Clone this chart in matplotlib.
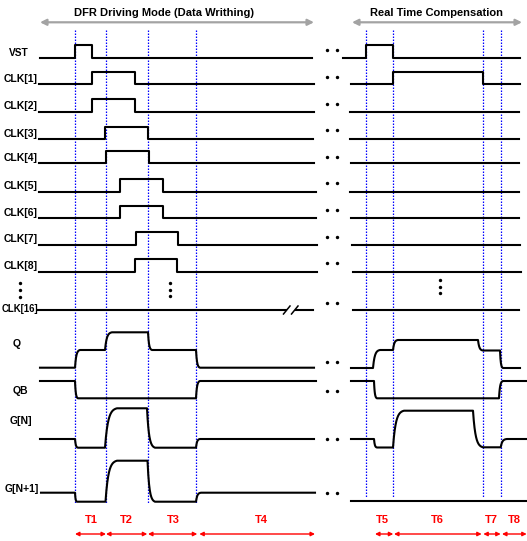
import numpy as np
import matplotlib
matplotlib.use('Agg')
import matplotlib.pyplot as plt

# ---------------- data ----------------
# timing guide positions (dotted blue)
guides_left = [75, 105.5, 148, 196]
guides_right = [366, 393, 483, 501]

# digital rows
dig_labels = ['VST', 'CLK[1]', 'CLK[2]', 'CLK[3]', 'CLK[4]', 'CLK[5]', 'CLK[6]', 'CLK[7]', 'CLK[8]']
dig_low = [57.7, 84.3, 111.5, 139.3, 163.3, 191.7, 218.3, 244.5, 271.7]
dig_amp = 12.3
dig_left_start = [40, 38.5, 38.5, 38.5, 38.5, 38.5, 38.5, 38.5, 38.5]
dig_left_end = [311.7, 314.3, 314.3, 313.3, 314.3, 315.7, 315.7, 316.7, 316.7]
pulse_left_on = [75, 92, 92, 105, 106, 120, 120, 135.5, 135]
pulse_left_off = [92, 135, 135, 148, 149, 163, 163, 178, 177]
dig_right_start = [343, 351, 350, 350, 351, 350, 351, 352, 352.7]
dig_right_end = [520, 520, 519, 519, 519, 519, 519, 520, 521]
pulse_right_on = [366, 393, None, None, None, None, None, None, None]
pulse_right_off = [393, 483, None, None, None, None, None, None, None]

clk16_y = 310
clk16_left = [38, 313.3]
clk16_break = [286, 294]
clk16_right = [353, 519]

# analog waveforms (knots: x, level)
q_left_x = [40, 75, 80, 105, 112, 148, 152, 196, 200, 314]
q_left_y = [367.7, 367.7, 350, 350, 332.3, 332.3, 350, 350, 367.7, 367.7]
q_right_x = [351, 373, 380, 393, 398, 478, 483, 500, 503, 520]
q_right_y = [368, 368, 350, 350, 340, 340, 350.5, 350.5, 368, 368]

qb_left_x = [40, 75, 78, 196, 200, 316]
qb_left_y = [381, 381, 398.3, 398.3, 381, 381]
qb_right_x = [351, 374, 377, 499, 503, 527]
qb_right_y = [381, 381, 398.3, 398.3, 381, 381]

gn_left_x = [40, 75, 78, 105, 117, 147, 155, 196, 200, 314]
gn_left_y = [439, 439, 447.7, 447.7, 408.3, 408.3, 447.7, 447.7, 439, 439]
gn_right_x = [351, 374, 377, 393, 404, 473, 483, 500.7, 507, 527]
gn_right_y = [439, 439, 447.5, 447.5, 410.7, 410.7, 447.3, 447.3, 439, 439]

gn1_left_x = [41, 75, 77, 105.5, 117, 147.5, 155, 196, 201, 315]
gn1_left_y = [492.7, 492.7, 501.7, 501.7, 460.7, 460.7, 501.7, 501.7, 492.7, 492.7]
gn1_right_x = [351, 527]
gn1_right_y = [500.7, 500.7]

analog_labels = ['Q', 'QB', 'G[N]', 'G[N+1]']
analog_label_x = [16.5, 20, 20.5, 21.5]
analog_label_y = [344, 390.7, 421, 488.5]

# continuation dots
dots_y = [50, 77.3, 104, 129.5, 156.7, 183.3, 210, 236.7, 263.3, 303, 361.7, 390.7, 439, 492.7]
dots_x = [326.7, 336.7]
vdots_left = (20, [283.3, 290, 296.7])
vdots_mid = (170, [283.3, 290, 296])
vdots_right = (440, [280, 286.7, 293.3])

# phases
phase_labels = ['T1', 'T2', 'T3', 'T4', 'T5', 'T6', 'T7', 'T8']
phase_label_x = [91.7, 126.5, 173, 261, 382.3, 437.7, 491.7, 514]
phase_start = [75, 106, 148, 199.3, 375, 394, 483.3, 502]
phase_end = [106, 147.3, 197.3, 315, 393.3, 481.7, 500.7, 526.7]

header_texts = ['DFR Driving Mode (Data Writhing)', 'Real Time Compensation']
header_x = [163.8, 436.7]
header_arrow = [(40, 314), (352, 522)]

# ---------------- drawing ----------------
plt.rcParams['font.family'] = ['Liberation Sans', 'DejaVu Sans']
fig = plt.figure(figsize=(5.27, 5.41), dpi=100)
ax = fig.add_axes([0, 0, 1, 1])
ax.set_xlim(0, 527)
ax.set_ylim(541, 0)
ax.axis('off')

LW = 1.5
K = 'black'


def draw_wave(xs, ys, k=4.0):
    px, py = [xs[0]], [ys[0]]
    for i in range(1, len(xs)):
        x0, x1, y0, y1 = xs[i - 1], xs[i], ys[i - 1], ys[i]
        if y0 != y1 and x1 != x0:
            s = np.linspace(0, 1, 40)
            f = (1 - np.exp(-k * s)) / (1 - np.exp(-k))
            px.extend(x0 + (x1 - x0) * s)
            py.extend(y0 + (y1 - y0) * f)
        else:
            px.append(x1)
            py.append(y1)
    ax.plot(px, py, color=K, lw=LW, solid_joinstyle='round', zorder=3)


# guides
for g in guides_left:
    ax.plot([g, g], [30, 503], color='blue', lw=0.9, ls=(0, (1.2, 1.2)), zorder=2)
for g in guides_right:
    ax.plot([g, g], [30, 497], color='blue', lw=0.9, ls=(0, (1.2, 1.2)), zorder=2)

# digital rows
for i, lab in enumerate(dig_labels):
    lo = dig_low[i]
    hi = lo - dig_amp
    on, off = pulse_left_on[i], pulse_left_off[i]
    draw_wave([dig_left_start[i], on, on, off, off, dig_left_end[i]], [lo, lo, hi, hi, lo, lo])
    if pulse_right_on[i] is not None:
        on, off = pulse_right_on[i], pulse_right_off[i]
        draw_wave([dig_right_start[i], on, on, off, off, dig_right_end[i]], [lo, lo, hi, hi, lo, lo])
    else:
        draw_wave([dig_right_start[i], dig_right_end[i]], [lo, lo])
    if lab == 'VST':
        ax.text(19, lo - 5, lab, ha='center', va='center', fontsize=7.3, fontweight='bold')
    else:
        ax.text(37.5, lo - 5.5, lab, ha='right', va='center', fontsize=7.5, fontweight='bold')

# CLK[16]
ax.plot([clk16_left[0], clk16_break[0]], [clk16_y, clk16_y], color=K, lw=LW)
ax.plot([clk16_break[1] + 2, clk16_left[1]], [clk16_y, clk16_y], color=K, lw=LW)
for bx in clk16_break:
    ax.plot([bx - 2.5, bx + 4], [clk16_y + 4, clk16_y - 4], color=K, lw=1.1)
ax.plot(clk16_right, [clk16_y, clk16_y], color=K, lw=LW)
ax.text(38, clk16_y - 1, 'CLK[16]', ha='right', va='center', fontsize=6.9, fontweight='bold')

# analog waveforms
draw_wave(q_left_x, q_left_y)
draw_wave(q_right_x, q_right_y)
draw_wave(qb_left_x, qb_left_y)
draw_wave(qb_right_x, qb_right_y)
draw_wave(gn_left_x, gn_left_y)
draw_wave(gn_right_x, gn_right_y)
draw_wave(gn1_left_x, gn1_left_y)
draw_wave(gn1_right_x, gn1_right_y)
for lab, lx, ly in zip(analog_labels, analog_label_x, analog_label_y):
    ax.text(lx, ly, lab, ha='center', va='center', fontsize=7.5, fontweight='bold')

# dots
for y in dots_y:
    ax.scatter(dots_x, [y, y], s=6, color=K, zorder=4, linewidths=0)
for vx, vys in (vdots_left, vdots_mid, vdots_right):
    ax.scatter([vx] * len(vys), vys, s=6, color=K, zorder=4, linewidths=0)

# phases
for lab, lx, s0, s1 in zip(phase_labels, phase_label_x, phase_start, phase_end):
    ax.text(lx, 520, lab, ha='center', va='center', fontsize=8, fontweight='bold', color='red')
    ax.annotate('', xy=(s0, 534), xytext=(s1, 534),
                arrowprops=dict(arrowstyle='<|-|>', color='red', lw=1.0,
                                mutation_scale=6, shrinkA=0, shrinkB=0))

# headers
for t, hx, (a0, a1) in zip(header_texts, header_x, header_arrow):
    ax.text(hx, 13.5, t, ha='center', va='center', fontsize=8, fontweight='bold')
    ax.annotate('', xy=(a0, 22.3), xytext=(a1, 22.3),
                arrowprops=dict(arrowstyle='<|-|>', color='#a3a3a3', lw=1.6,
                                mutation_scale=9, shrinkA=0, shrinkB=0))

fig.savefig('out.png', dpi=100)
